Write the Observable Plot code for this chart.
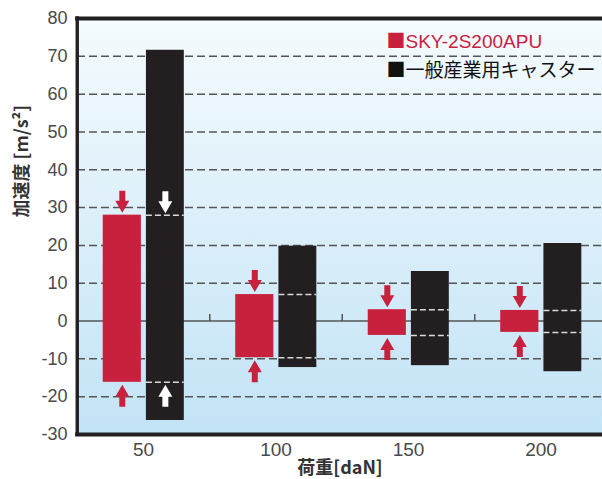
<!DOCTYPE html>
<html><head><meta charset="utf-8">
<script src="https://cdn.jsdelivr.net/npm/d3@7"></script>
<script src="https://cdn.jsdelivr.net/npm/@observablehq/plot@0.6"></script>
<style>html,body{margin:0;padding:0;background:#fff;} svg{display:block}</style>
</head><body><div id="chart"></div>
<script>
// ---- data ----
const loads = [50, 100, 150, 200];
const skyMax = [28.0, 7.0, 3.0, 2.8];
const skyMin = [-16.2, -9.7, -3.8, -3.0];
const genMax = [71.6, 19.8, 13.1, 20.5];
const genMin = [-26.3, -12.3, -11.8, -13.4];
const seriesNames = ["SKY-2S200APU", "一般産業用キャスター"];
const seriesColors = ["#c8213e", "#231f20"];
const yTicks = [-30, -20, -10, 0, 10, 20, 30, 40, 50, 60, 70, 80];
const gridValues = [-20, -10, 10, 20, 30, 40, 50, 60, 70];
const dividers = [75, 125, 175];
const whiteArrowLoads = [50];
const xLabel = "荷重[daN]";
const yLabel = "加速度 [m/s²]";

// ---- table ----
const rows = loads.map((x, i) => ({x, skyMax: skyMax[i], skyMin: skyMin[i], genMax: genMax[i], genMin: genMin[i]}));
const whiteRows = rows.filter(d => whiteArrowLoads.includes(d.x));
const sx1 = d => d.x - 15.2, sx2 = d => d.x - 0.8, sxc = d => d.x - 8;
const gx1 = d => d.x + 1.1, gx2 = d => d.x + 15.4, gxc = d => d.x + 8.25;

const blockArrow = {draw(ctx, l) {
  const hl = 12, hw = 7, sw = 3;
  ctx.moveTo(-sw, 0); ctx.lineTo(-sw, -(l - hl)); ctx.lineTo(-hw, -(l - hl));
  ctx.lineTo(0, -l); ctx.lineTo(hw, -(l - hl)); ctx.lineTo(sw, -(l - hl));
  ctx.lineTo(sw, 0); ctx.closePath();
}};
const tickShape = {draw(ctx, l) { ctx.moveTo(0, 0); ctx.lineTo(0, -l); }};

const ink = "#231f20";
const red = seriesColors[0];

const chart = Plot.plot({
  width: 602,
  height: 479,
  marginTop: 18,
  marginBottom: 45,
  marginLeft: 77,
  marginRight: 0,
  style: {fontFamily: "'Liberation Sans', 'Noto Sans CJK JP', sans-serif", background: "#fff"},
  x: {domain: [25, 225], range: [76.75, 606.75]},
  y: {domain: [-30, 80]},
  marks: [
    Plot.frame({fill: "url(#bgGrad)"}),
    Plot.ruleY(gridValues, {stroke: "#555", strokeWidth: 1.5, strokeDasharray: "8,4"}),
    Plot.ruleY([0], {stroke: "#555", strokeWidth: 1.5}),
    Plot.vector(dividers, {x: d => d, y: 0, length: 7, shape: tickShape, anchor: "start", stroke: "#555", strokeWidth: 1.5, strokeLinecap: "butt"}),
    Plot.rectY(rows, {x1: sx1, x2: sx2, y1: "skyMin", y2: "skyMax", fill: red}),
    Plot.rectY(rows, {x1: gx1, x2: gx2, y1: "genMin", y2: "genMax", fill: ink}),
    Plot.ruleY(rows, {y: "skyMax", x1: gx1, x2: gx2, stroke: "#d9d9d9", strokeWidth: 1.5, strokeDasharray: "6,3"}),
    Plot.ruleY(rows, {y: "skyMin", x1: gx1, x2: gx2, stroke: "#d9d9d9", strokeWidth: 1.5, strokeDasharray: "6,3"}),
    Plot.vector(rows, {x: sxc, y: "skyMax", length: 22, rotate: 180, anchor: "end", dy: -2.5, shape: blockArrow, fill: red, stroke: "none"}),
    Plot.vector(rows, {x: sxc, y: "skyMin", length: 22, rotate: 0, anchor: "end", dy: 2.5, shape: blockArrow, fill: red, stroke: "none"}),
    Plot.vector(whiteRows, {x: gxc, y: "skyMax", length: 22, rotate: 180, anchor: "end", dy: -2, shape: blockArrow, fill: "#fff", stroke: "none"}),
    Plot.vector(whiteRows, {x: gxc, y: "skyMin", length: 22, rotate: 0, anchor: "end", dy: 2.5, shape: blockArrow, fill: "#fff", stroke: "none"}),
    Plot.ruleY([80, -30], {stroke: ink, strokeWidth: 3.8, strokeLinecap: "square"}),
    Plot.ruleX([25], {stroke: ink, strokeWidth: 3.4, strokeLinecap: "square"}),
    Plot.axisY({ticks: yTicks, tickFormat: d => String(d), tickSize: 0, tickPadding: 10, fontSize: 18, fill: "#4a4a4a", label: null}),
    Plot.axisX({ticks: loads, tickFormat: d => String(d), tickSize: 0, tickPadding: 8, fontSize: 19, fill: "#4a4a4a", label: null}),
    // legend
    Plot.text(["■"], {text: d => d, frameAnchor: "top-left", dx: 309, dy: 23, fill: red, fontSize: 19, fontFamily: "'Noto Sans CJK JP'", textAnchor: "start", lineAnchor: "middle"}),
    Plot.text([seriesNames[0]], {text: d => d, frameAnchor: "top-left", dx: 328, dy: 23, fill: red, fontSize: 19, textAnchor: "start", lineAnchor: "middle"}),
    Plot.text([seriesNames[1]], {text: d => "■" + d, frameAnchor: "top-left", dx: 309, dy: 52, fill: "#111", fontSize: 19, fontFamily: "'Noto Sans CJK JP'", textAnchor: "start", lineAnchor: "middle"}),
    // axis titles
    Plot.text([xLabel], {text: d => d, frameAnchor: "bottom", dy: 34, fontSize: 18, fontWeight: "bold", fill: "#333", fontFamily: "'Noto Sans CJK JP'", lineAnchor: "middle"}),
    Plot.text([yLabel], {text: d => d, frameAnchor: "left", dx: -55, dy: -9, rotate: -90, fontSize: 18, fontWeight: "bold", fill: "#333", fontFamily: "'Noto Sans CJK JP'", lineAnchor: "middle"})
  ]
});

const defs = d3.select(chart).insert("defs", ":first-child");
const grad = defs.append("linearGradient").attr("id", "bgGrad").attr("x1", 0).attr("y1", 0).attr("x2", 0).attr("y2", 1);
grad.append("stop").attr("offset", "0%").attr("stop-color", "#f5fbfe");
grad.append("stop").attr("offset", "100%").attr("stop-color", "#c2e3f6");

document.getElementById("chart").appendChild(chart);
</script>
</body></html>
